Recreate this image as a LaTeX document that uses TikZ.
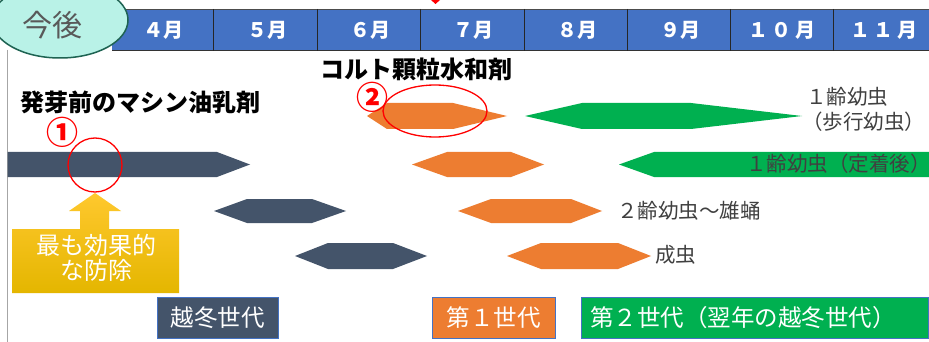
\documentclass[tikz,border=0pt]{standalone}
\usepackage{fontspec}
\setmainfont{Noto Sans CJK JP}
\definecolor{slate}{HTML}{44546A}
\definecolor{orng}{HTML}{ED7D31}
\definecolor{grn}{HTML}{00B050}
\definecolor{hdr}{HTML}{4472C4}
\definecolor{ellfill}{HTML}{B9F2E7}
\definecolor{elldraw}{HTML}{1E6352}
\definecolor{txtgray}{HTML}{404040}
\definecolor{ytop}{HTML}{FFC82E}
\definecolor{ybot}{HTML}{E4B600}
\newcommand\hexbar[7]{\fill[#1] (#2,{(#6+#7)/2}) -- (#3,#6) -- (#4,#6) -- (#5,{(#6+#7)/2}) -- (#4,#7) -- (#3,#7) -- cycle;}
\newcommand\fsz[1]{\fontsize{#1}{#1}\selectfont}
\tikzset{
  month/.style={text=white,font=\fsz{20}\bfseries,inner sep=0pt},
  lbl/.style={text=txtgray,font=\fsz{20.5},inner sep=0pt,anchor=west},
  title/.style={text=black,font=\fsz{24}\bfseries,inner sep=0pt,anchor=west},
  redno/.style={text=red,font=\fsz{32}\bfseries,inner sep=0pt},
  genbox/.style={draw=hdr,line width=0.8pt,text=white,font=\fsz{23.5},inner sep=0pt,minimum height=41pt}
}
\begin{document}
\begin{tikzpicture}[x=1pt,y=-1pt]
\clip (0,0) rectangle (929,342);
\fill[white] (0,0) rectangle (929,342);
% left frame line
\draw[gray!70,line width=1pt] (7,50) -- (7,342);
% header
\fill[hdr] (112,9) rectangle (929,51);
\draw[black!70,line width=0.6pt] (112,9) -- (929,9);
\draw[black!80,line width=1pt] (112,51) -- (929,51);
\foreach \x in {213,317,420,524,627,730,833} \draw[black!85,line width=1pt] (\x,9) -- (\x,51);
\node[month] (m4) at (163,30) {４月};
\node[month] (m5) at (267,30) {５月};
\node[month] (m6) at (370,30) {６月};
\node[month] (m7) at (473,30) {７月};
\node[month] (m8) at (577,30) {８月};
\node[month] (m9) at (680,30) {９月};
\node[month] (m10) at (782,30) {１\,０\,月};
\node[month] (m11) at (884,30) {１\,１\,月};
\fill[red] (431,0) -- (440,0) -- (435.5,4) -- cycle;
% ellipse
\draw[elldraw,fill=ellfill,line width=1.5pt] (60,20) ellipse [x radius=68,y radius=38];
\node[text=black!65,font=\fsz{30},inner sep=0pt] (kongo) at (53,25) {今後};
% titles
\node[title] (t1) at (20,102) {発芽前のマシン油乳剤};
\node[title] (t2) at (320,69) {コルト顆粒水和剤};
% row 1 dark bar
\fill[slate] (7.5,152) -- (217,152) -- (250,164.5) -- (217,177) -- (7.5,177) -- cycle;
% row A
\hexbar{orng}{367}{387}{453}{507}{103}{129}
\hexbar{grn}{525}{582}{691}{802}{103}{129}
% row B
\hexbar{orng}{412}{447}{511}{544}{152}{177}
\fill[grn] (619,164.5) -- (654,152) -- (935,152) -- (935,177) -- (654,177) -- cycle;
% row C
\hexbar{slate}{214}{247}{312}{346}{199}{223}
\hexbar{orng}{458}{491}{571}{602}{199}{223}
% row D
\hexbar{slate}{295}{328}{393}{427}{243}{269}
\hexbar{orng}{507}{541}{618}{651}{243}{269}
% stage labels
\node[lbl] (l1a) at (806,97) {１齢幼虫};
\node[lbl] (l1b) at (802,122) {（歩行幼虫）};
\node[lbl] (l1c) at (746,164) {１齢幼虫（定着後）};
\node[lbl] (l2) at (617,211) {２齢幼虫～雄蛹};
\node[lbl] (l3) at (655,255) {成虫};
% red marks
\draw[red,line width=1.3pt] (95,165) circle [radius=27];
\node[redno] (n1) at (62.5,132) {①};
\draw[red,line width=1.3pt] (435,111) ellipse [x radius=52,y radius=26];
\node[redno] (n2) at (372.5,97) {②};
% yellow arrow box
\shade[top color=ytop,bottom color=ybot]
  (12,229) -- (80,229) -- (80,211) -- (69,211) -- (95,193) -- (121,211) -- (109,211) -- (109,229) -- (179,229) -- (179,293) -- (12,293) -- cycle;
\node[text=white,font=\fsz{24},inner sep=0pt] (y1) at (96,245) {最も効果的};
\node[text=white,font=\fsz{24},inner sep=0pt] (y2) at (96,270) {な防除};
% generation boxes
\node[genbox,fill=slate,minimum width=121pt] (g0) at (217.5,317.5) {越冬世代};
\node[genbox,fill=orng,minimum width=123pt] (g1) at (493.5,317.5) {第１世代};
\node[genbox,fill=grn,minimum width=347pt] (g2) at (754.5,317.5) {};
\node[text=white,font=\fsz{23.5},inner sep=0pt,anchor=west] (g2t) at (590,317.5) {第２世代（翌年の越冬世代）};
\end{tikzpicture}
\end{document}
